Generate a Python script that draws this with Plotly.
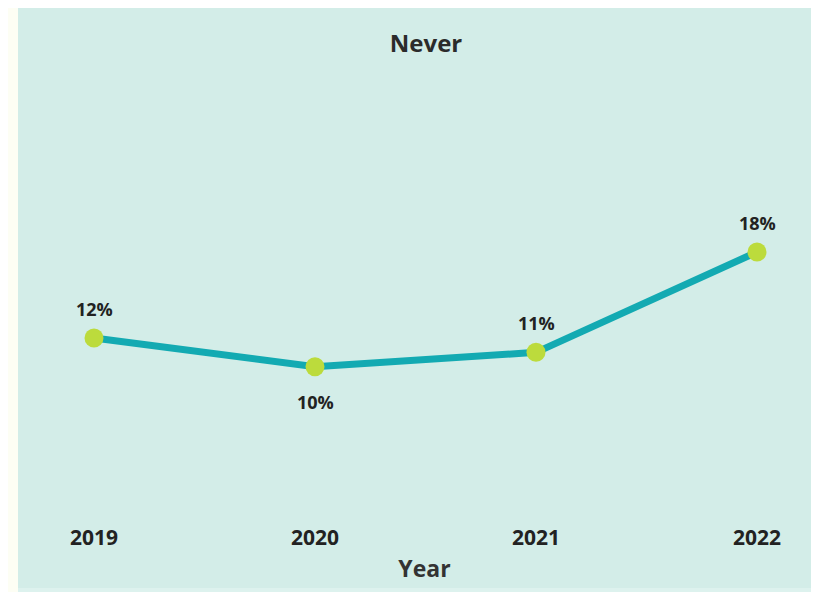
import plotly.graph_objects as go

# Data
years = [2019, 2020, 2021, 2022]
never_pct = [12, 10, 11, 18]
labels = ['12%', '10%', '11%', '18%']
label_above = [True, False, True, True]

W, H = 819, 592
# the page adds an 8px body margin, so targets are shifted up/left by 8px
OFF = 8
L, R, T, B = 50 - OFF, 20 + OFF, 80 - OFF, 82 + OFF
plot_w = W - L - R
plot_h = H - T - B


def px_to_paper_x(px: float) -> float:
    return (px - OFF - L) / plot_w


def px_to_paper_y(py: float) -> float:
    return (H - B - (py - OFF)) / plot_h


FONT = 'Open Sans'
TEAL_BG = '#d3ede8'
CREAM = '#fdfef4'

fig = go.Figure()

fig.add_trace(go.Scatter(
    x=years, y=never_pct,
    mode='lines+markers',
    line=dict(color='#13aab2', width=7),
    marker=dict(color='#bcdb3c', size=19),
    cliponaxis=False,
    hoverinfo='skip',
))

# data labels
for yr, val, txt, above in zip(years, never_pct, labels, label_above):
    fig.add_annotation(x=yr, y=val, text=f'<b>{txt}</b>', showarrow=False,
                       yshift=29 if above else -35,
                       font=dict(family=FONT, size=18, color='#222222'))

# cream page strip on the left and a pale strip at the bottom
fig.add_shape(type='rect', xref='paper', yref='paper', layer='below',
              x0=px_to_paper_x(-20), x1=px_to_paper_x(18),
              y0=px_to_paper_y(H + 20), y1=px_to_paper_y(-20),
              fillcolor=CREAM, line=dict(width=0))
fig.add_shape(type='rect', xref='paper', yref='paper', layer='below',
              x0=px_to_paper_x(18), x1=px_to_paper_x(W + 20),
              y0=px_to_paper_y(H + 20), y1=px_to_paper_y(588),
              fillcolor='#ddf2ee', line=dict(width=0))

fig.update_layout(
    width=W, height=H,
    margin=dict(l=L, r=R, t=T, b=B),
    paper_bgcolor=TEAL_BG,
    plot_bgcolor='rgba(0,0,0,0)',
    showlegend=False,
    title=dict(text='<b>Never</b>', x=(426 - OFF) / W, xanchor='center',
               y=1 - (44 - OFF) / H, yanchor='middle',
               font=dict(family=FONT, size=24, color='#2b2b2b')),
    xaxis=dict(
        range=[2019 - 44 / 221, 2022 + 42 / 221],
        tickvals=years, ticktext=[f'<b>{y}</b>' for y in years],
        showgrid=False, zeroline=False, showline=False,
        ticks='outside', ticklen=9, tickcolor='rgba(0,0,0,0)',
        tickfont=dict(family=FONT, size=21, color='#222222'),
        title=dict(text='<b>Year</b>', standoff=10,
                   font=dict(family=FONT, size=23, color='#333333')),
    ),
    yaxis=dict(range=[0, 30], visible=False),
)

fig.write_html('out.html')
